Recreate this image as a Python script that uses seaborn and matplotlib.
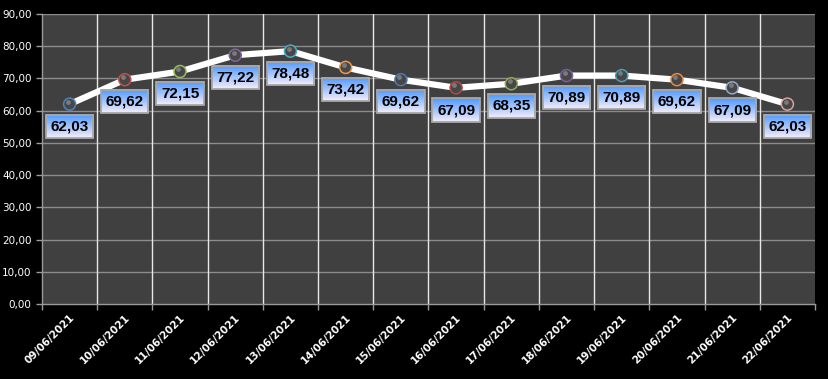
import numpy as np
import pandas as pd
import matplotlib
matplotlib.use("Agg")
import matplotlib.pyplot as plt
import seaborn as sns
from matplotlib.ticker import FuncFormatter, MultipleLocator, FixedLocator

dates = ["09/06/2021", "10/06/2021", "11/06/2021", "12/06/2021", "13/06/2021",
         "14/06/2021", "15/06/2021", "16/06/2021", "17/06/2021", "18/06/2021",
         "19/06/2021", "20/06/2021", "21/06/2021", "22/06/2021"]
values = [62.03, 69.62, 72.15, 77.22, 78.48, 73.42, 69.62,
          67.09, 68.35, 70.89, 70.89, 69.62, 67.09, 62.03]
ring_colors = ["#4f81bd", "#c0504d", "#9bbb59", "#8064a2", "#4bacc6", "#f79646",
               "#4a7ab0", "#b04b48", "#8fac52", "#76609a", "#47a0b8", "#e58a40",
               "#95a8c8", "#d8a0a0"]

df = pd.DataFrame({"idx": range(len(dates)), "date": dates, "value": values})

sns.set_style("dark", {"axes.facecolor": "#404040", "figure.facecolor": "black"})
plt.rcParams["font.family"] = ["DejaVu Sans"]

fig = plt.figure(figsize=(8.29, 3.79), dpi=100)
ax = fig.add_axes([42 / 829, (379 - 304) / 379, (815 - 42) / 829, (304 - 14) / 379])
ax.set_facecolor("#404040")

# grid
for y in range(10, 100, 10):
    ax.axhline(y, color="#8c8c8c", lw=1, zorder=1)
for xb in np.arange(0.5, len(dates) - 0.5, 1):
    ax.axvline(xb, color="#e8e8e8", lw=1, zorder=1)

sns.lineplot(data=df, x="idx", y="value", ax=ax, color="white", lw=4.5,
             zorder=3, legend=False)
sns.scatterplot(data=df, x="idx", y="value", hue="date", palette=ring_colors,
                ax=ax, s=75, linewidth=1.1, zorder=4, legend=False)
coll = ax.collections[-1]
coll.set_edgecolors(ring_colors)
coll.set_facecolors(["#474747"] * len(dates))
# little highlight to suggest the sphere look
ax.scatter(df["idx"] - 0.03, df["value"] + 0.8, s=12, color="#7a7a7a",
           zorder=5, linewidth=0)

ax.set_xlim(-0.5, len(dates) - 0.5)
ax.set_ylim(0, 90)

# labels
texts = []
for i, v in zip(df["idx"], df["value"]):
    t = ax.annotate(f"{v:.2f}".replace(".", ","), (i, v), xytext=(0, -16),
                    textcoords="offset points", ha="center", va="center",
                    fontsize=11, fontweight="bold", color="black", zorder=8,
                    family="Liberation Sans",
                    bbox=dict(boxstyle="square,pad=0.3", fc="none",
                              ec="#a8a8a8", lw=1.3))
    texts.append(t)

grad = np.linspace(0, 1, 64)[:, None]
top = np.array([0.30, 0.60, 1.0])
bot = np.array([0.96, 0.93, 0.98])
img = (top[None, None, :] * (1 - grad[:, :, None]) + bot[None, None, :] * grad[:, :, None])
img = np.repeat(img, 2, axis=1)

fig.canvas.draw()
r = fig.canvas.get_renderer()
inv = fig.transFigure.inverted()
for t in texts:
    bb = t.get_bbox_patch().get_window_extent(r)
    (x0, y0), (x1, y1) = inv.transform([(bb.x0, bb.y0), (bb.x1, bb.y1)])
    ax.imshow(img, extent=[x0, x1, y0, y1], transform=fig.transFigure,
              aspect="auto", zorder=7, clip_on=False, interpolation="bilinear")

ax.set_xlim(-0.5, len(dates) - 0.5)
ax.set_ylim(0, 90)
ax.set_aspect("auto")

# axes styling
ax.yaxis.set_major_locator(MultipleLocator(10))
ax.yaxis.set_major_formatter(FuncFormatter(lambda v, p: f"{v:.2f}".replace(".", ",")))
ax.tick_params(axis="y", colors="#9a9a9a", labelcolor="white", labelsize=7.5,
               length=4, width=1, left=True)
ax.set_xticks(df["idx"])
ax.set_xticklabels(dates, rotation=45, ha="right", rotation_mode="anchor",
                   color="white", fontsize=7.5, fontweight="bold")
ax.tick_params(axis="x", length=0, pad=6)
ax.xaxis.set_minor_locator(FixedLocator(np.arange(-0.5, len(dates), 1)))
ax.tick_params(axis="x", which="minor", length=4, width=1, colors="#9a9a9a",
               bottom=True)
ax.set_xlabel("")
ax.set_ylabel("")
for s in ["top", "right"]:
    ax.spines[s].set_visible(False)
for s in ["left", "bottom"]:
    ax.spines[s].set_visible(True)
    ax.spines[s].set_color("#9a9a9a")
    ax.spines[s].set_linewidth(1)
ax.grid(False)

fig.savefig("out.png", dpi=100, facecolor="black")
